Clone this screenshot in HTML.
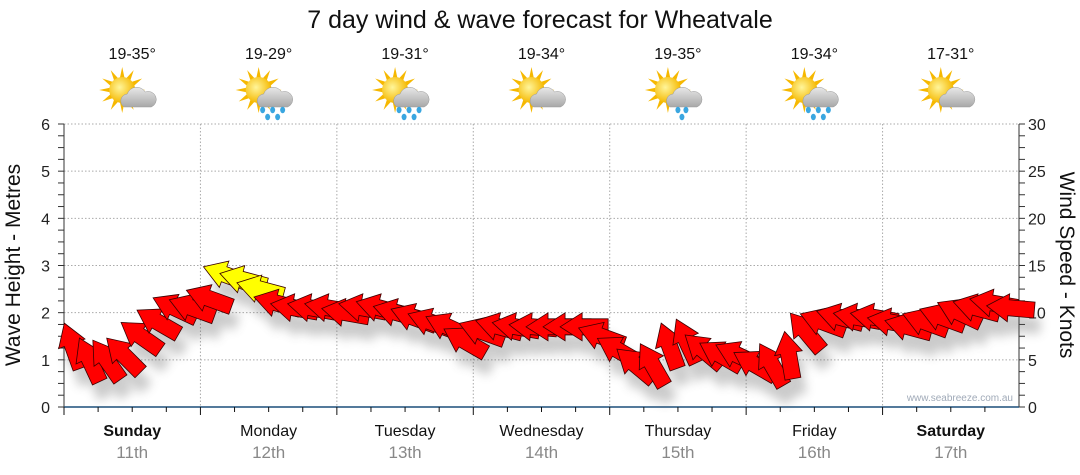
<!DOCTYPE html>
<html><head><meta charset="utf-8"><style>
body{margin:0;background:#fff;}
svg{display:block;font-family:"Liberation Sans","DejaVu Sans",sans-serif;}
</style></head><body>
<svg id="chart" width="1080" height="475" viewBox="0 0 1080 475">
<defs>
<filter id="shadow" x="-50%" y="-50%" width="200%" height="200%"><feGaussianBlur stdDeviation="5"/></filter>
<radialGradient id="sunG" cx="40%" cy="40%" r="60%"><stop offset="0" stop-color="#fff59a"/><stop offset="1" stop-color="#f5b800"/></radialGradient>
<linearGradient id="cloudG" x1="0" y1="0" x2="0" y2="1"><stop offset="0" stop-color="#e8e8e8"/><stop offset="1" stop-color="#a8a8a8"/></linearGradient>
</defs>
<text x="540" y="28" text-anchor="middle" font-size="25" fill="#111">7 day wind &amp; wave forecast for Wheatvale</text>
<g id="grid"></g><g id="axes"></g><g id="icons"></g><g id="shadows" filter="url(#shadow)" opacity="0.3"></g><g id="arrows"></g>
<text x="1013" y="401" text-anchor="end" font-size="10" fill="#a0aab8">www.seabreeze.com.au</text>
<text transform="translate(20,265) rotate(-90)" text-anchor="middle" font-size="21" fill="#111">Wave Height - Metres</text>
<text transform="translate(1060,265) rotate(90)" text-anchor="middle" font-size="21" fill="#111">Wind Speed - Knots</text>
</svg>
<script>
const days=["Sunday","Monday","Tuesday","Wednesday","Thursday","Friday","Saturday"];
const dates=["11th","12th","13th","14th","15th","16th","17th"];
const temps=["19-35°","19-29°","19-31°","19-34°","19-35°","19-34°","17-31°"];
const rainy=[false,true,true,false,true,true,false];
const heavyRain=[false,true,true,false,false,true,false];
const leftTicks=[0,1,2,3,4,5,6];
const rightTicks=[0,5,10,15,20,25,30];
const windSpeed=[6.5,5,5,5.5,7.5,9,10.5,10.5, 11.5,14,13.5,12.5,11,10.5,10.5,10.5, 10,10.5,10.5,10,9.5,9,8.5,7, 8,8.5,8.5,8.5,8.5,8.5,8.5,7.5, 6,4.5,4.5,6.5,7,6,5.5,5.5, 4.5,4.5,5.5,8,9,9.5,9.5,9.5, 9,8.5,9,9.5,10,10.5,11,10.5];
const windDir=[110,115,125,135,145,150,155,160, 160,160,165,165,165,170,170,170, 170,170,165,165,160,160,155,150, 160,165,170,175,180,180,180,160, 150,140,120,110,115,140,150,155, 150,120,100,130,160,165,170,170, 170,165,160,160,155,165,170,175];

const NS="http://www.w3.org/2000/svg";
const X0=64,X1=1019,Y0=407,Y1=124,dayW=(X1-X0)/7;
const yM=m=>Y0-(m/6)*(Y0-Y1);
const yK=k=>Y0-(k/30)*(Y0-Y1);
const xT=i=>X0+(i+0.5)*dayW/8;
function mk(tag,attrs,parent,txt){const e=document.createElementNS(NS,tag);for(const k in attrs)e.setAttribute(k,attrs[k]);if(txt!==undefined)e.textContent=txt;parent.appendChild(e);return e;}
const grid=document.getElementById('grid'),axes=document.getElementById('axes'),icons=document.getElementById('icons');
leftTicks.forEach(t=>{if(t>0){const l=mk('line',{x1:X0,x2:X1,y1:yM(t),y2:yM(t),stroke:'#aaa','stroke-dasharray':'1.5,2'},grid);}
 const tx=mk('text',{x:50,y:yM(t)+6,'text-anchor':'end','font-size':16,fill:'#222'},axes,String(t));});
rightTicks.forEach(t=>{const tx=mk('text',{x:1028,y:yK(t)+6,'font-size':16,fill:'#222'},axes,String(t));});
for(let i=0;i<=24;i++){const y=Y0-i*(Y0-Y1)/24;mk('line',{x1:X0-6,x2:X0,y1:y,y2:y,stroke:'#333'},axes);mk('line',{x1:X1,x2:X1+6,y1:y,y2:y,stroke:'#333'},axes);}
mk('line',{x1:X0,x2:X0,y1:Y1,y2:Y0,stroke:'#333'},axes);mk('line',{x1:X1,x2:X1,y1:Y1,y2:Y0,stroke:'#333'},axes);
mk('line',{x1:X0,x2:X1,y1:Y0,y2:Y0,stroke:'#1c4f7a','stroke-width':1.5},axes);
days.forEach((d,i)=>{const xb=X0+i*dayW,xc=xb+dayW/2;
 if(i>0){const l=mk('line',{x1:xb,x2:xb,y1:Y1,y2:Y0,stroke:'#aaa','stroke-dasharray':'1.5,2'},grid);}
 for(let q=0;q<4;q++){mk('line',{x1:xb+q*dayW/4,x2:xb+q*dayW/4,y1:Y0,y2:Y0+(q==0?8:5),stroke:'#111'},axes);}
 const bold=(i==0||i==6);
 const dl=mk('text',{x:xc,y:436,'text-anchor':'middle','font-size':16,'font-weight':bold?'bold':'normal',fill:'#111'},axes,d);
 const dt=mk('text',{x:xc,y:458,'text-anchor':'middle','font-size':17,fill:'#888'},axes,dates[i]);
 const tp=mk('text',{x:xc,y:59,'text-anchor':'middle','font-size':16,fill:'#111'},icons,temps[i]);
 const g=mk('g',{transform:`translate(${xc-4},95)`},icons);
 for(let r=0;r<12;r++){const a=r*30*Math.PI/180;mk('polygon',{points:`${-6+Math.cos(a-0.2)*12},${-5+Math.sin(a-0.2)*12} ${-6+Math.cos(a)*23},${-5+Math.sin(a)*23} ${-6+Math.cos(a+0.2)*12},${-5+Math.sin(a+0.2)*12}`,fill:'#f6b800'},g);}
 mk('circle',{cx:-6,cy:-5,r:13,fill:'url(#sunG)'},g);
 mk('path',{d:'M-4,12 a7,7 0 0 1 3,-13 a10,10 0 0 1 18,-2 a8,8 0 0 1 6,15 z',fill:'url(#cloudG)',stroke:'#999','stroke-width':0.5},g);
 if(rainy[i]){const drops=heavyRain[i]?[[-2,15],[8,15],[18,15],[3,22],[13,22]]:[[4,15],[12,15],[8,22]];drops.forEach(p=>mk('ellipse',{cx:p[0],cy:p[1],rx:2.5,ry:3.2,fill:'#3aa6e0'},g));}
});
const shadows=document.getElementById('shadows'),arrows=document.getElementById('arrows');
const shape="M-24,-8 L2,-8 L2,-14 L24,0 L2,14 L2,8 L-24,8 Z";
windSpeed.forEach((s,i)=>{const x=xT(i),y=yK(s),rot=-windDir[i];
 mk('path',{d:shape,transform:`translate(${x+6},${y+16}) rotate(${rot})`,fill:'#555'},shadows);
 const a=mk('path',{d:shape,transform:`translate(${x},${y}) rotate(${rot})`,fill:s>=12?'#ffff00':'#ff0000',stroke:'#3a0000','stroke-width':0.8},arrows);
 
 
});
</script>
</body></html>
